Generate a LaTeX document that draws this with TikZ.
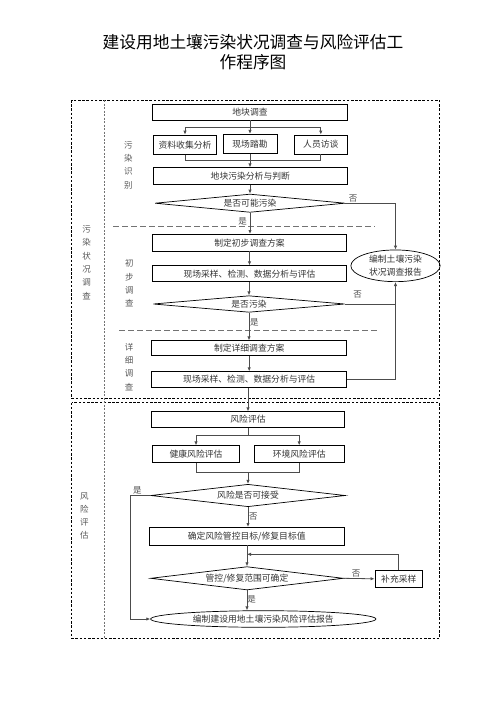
\documentclass[tikz,border=0pt]{standalone}
\usepackage{fontspec}
\newfontfamily\cjk{Noto Sans CJK SC}
\usetikzlibrary{arrows.meta,shapes.geometric}
\begin{document}
\begin{tikzpicture}[x=1pt,y=-1pt,
  font=\cjk\fontsize{8.8}{13}\selectfont,
  box/.style={draw=black, line width=0.7pt, inner sep=0pt, text=black!80},
  dia/.style={diamond, aspect=10, draw=black, line width=0.7pt, inner sep=0pt, text=black!80},
  ell/.style={ellipse, draw=black, line width=0.7pt, inner sep=0pt, text=black!80, align=center},
  conn/.style={draw=black!70, line width=0.8pt},
  arr/.style={conn, -{Latex[length=4pt,width=3.4pt]}},
  lbl/.style={text=black!70, inner sep=0pt, font=\cjk\fontsize{8.5}{10}\selectfont},
  vlbl/.style={text=black!65, inner sep=0pt, align=center, font=\cjk\fontsize{8.5}{13.3}\selectfont},
  frame/.style={draw=black, line width=0.8pt, dash pattern=on 2.5pt off 1.7pt},
  sepline/.style={draw=black!55, line width=0.9pt, dash pattern=on 6pt off 3pt},
  vsep/.style={draw=black!55, line width=0.8pt, dash pattern=on 2pt off 1.5pt}]
\useasboundingbox (0,0) rectangle (496,702);

% title
\node[align=center, inner sep=0pt, font=\cjk\fontsize{16.7}{19.4}\selectfont] (title) at (253,52)
  {建设用地土壤污染状况调查与风险评估工\\作程序图};

% frames
\draw[frame] (71.7,100) rectangle (439.3,398.3);
\draw[frame] (71.7,402.7) rectangle (439.3,638.3);
\draw[vsep] (104.5,100) -- (104.5,638.3);
\draw[sepline] (113,226.7) -- (375,226.7);
\draw[sepline] (119.3,330.7) -- (379.3,330.7);

% side labels
\node[vlbl] (lA) at (86.7,262.5) {污\\染\\状\\况\\调\\查};
\node[vlbl] (lB) at (128.3,165) {污\\染\\识\\别};
\node[vlbl] (lC) at (129.3,283.3) {初\\步\\调\\查};
\node[vlbl] (lD) at (129,366.7) {详\\细\\调\\查};
\node[vlbl] (lE) at (84.3,516) {风\\险\\评\\估};

% nodes
\node[box, minimum width=195pt, minimum height=15.7pt] (a1) at (250,112.2) {地块调查};
\node[box, minimum width=63.4pt, minimum height=19.3pt] (b1) at (185,144.7) {资料收集分析};
\node[box, minimum width=54pt, minimum height=19pt] (b2) at (250,143.8) {现场踏勘};
\node[box, minimum width=53pt, minimum height=19pt] (b3) at (320.8,144.5) {人员访谈};
\node[box, minimum width=194pt, minimum height=16.6pt] (c1) at (250.3,176) {地块污染分析与判断};
\node[dia, minimum width=190pt, minimum height=18.3pt] (d1) at (250,203.2) {是否可能污染};
\node[box, minimum width=194.4pt, minimum height=16.7pt] (e1) at (249.5,242.7) {制定初步调查方案};
\node[box, minimum width=194.4pt, minimum height=16pt] (e2) at (249.5,273.7) {现场采样、检测、数据分析与评估};
\node[dia, minimum width=191.6pt, minimum height=16.6pt] (d2) at (249,304) {是否污染};
\node[box, minimum width=195pt, minimum height=15pt] (f1) at (249.2,348.2) {制定详细调查方案};
\node[box, minimum width=195pt, minimum height=15.6pt] (f2) at (249.2,379.5) {现场采样、检测、数据分析与评估};
\node[ell, minimum width=89.3pt, minimum height=31.7pt] (R1) at (395.5,265.8) {编制土壤污染\\状况调查报告};

\node[box, minimum width=192.6pt, minimum height=15.6pt] (g1) at (248,419.5) {风险评估};
\node[box, minimum width=86.6pt, minimum height=16.6pt] (h1) at (196,454) {健康风险评估};
\node[box, minimum width=89.7pt, minimum height=16.6pt] (h2) at (299.2,454) {环境风险评估};
\node[dia, minimum width=194.3pt, minimum height=22.4pt] (d3) at (248,495.5) {风险是否可接受};
\node[box, minimum width=194.7pt, minimum height=17.7pt] (i1) at (246.7,536.2) {确定风险管控目标/修复目标值};
\node[dia, minimum width=192.7pt, minimum height=23.3pt] (d4) at (247,578.3) {管控/修复范围可确定};
\node[box, minimum width=47.7pt, minimum height=17.7pt] (j1) at (398.8,578.8) {补充采样};
\node[ell, minimum width=225.3pt, minimum height=16.6pt] (R2) at (263.3,619) {编制建设用地土壤污染风险评估报告};

% connectors, upper part
\coordinate (br1) at (250,127.3);
\draw[conn] (a1.south) -- (br1);
\draw[arr] (br1) -| (b1.north);
\draw[arr] (br1) -| (b3.north);
\draw[arr] (br1) -- (b2.north);
\coordinate (mg1) at (250,160.7);
\draw[conn] (b1.south) |- (mg1) -| (b3.south);
\draw[conn] (b2.south) -- (mg1);
\draw[arr] (mg1) -- (c1.north -| mg1);
\draw[arr] (c1.south -| d1.north) -- (d1.north);
\draw[arr] (d1.south) -- (e1.north -| d1.south);
\node[lbl] (y1) at (242.7,221.7) {是};
\draw[arr] (d1.east) -| (R1.north);
\node[lbl] (n1) at (353,198.3) {否};
\draw[arr] (e1.south) -- (e2.north);
\draw[arr] (e2.south -| d2.north) -- (d2.north);
\coordinate (jn1) at (R1.south |- d2.east);
\draw[conn] (d2.east) -- (jn1);
\node[lbl] (n2) at (357.7,295) {否};
\draw[arr] (d2.south) -- (f1.north -| d2.south);
\node[lbl] (y2) at (254.3,322.3) {是};
\draw[arr] (f1.south) -- (f2.south |- f2.north);
\draw[arr] (f2.east) -| (R1.south);

% connectors, lower part
\draw[arr] (f2.south -| g1.north) -- (g1.north);
\coordinate (br2) at (248,435.7);
\draw[conn] (g1.south) -- (br2);
\draw[arr] (br2) -| (h1.north);
\draw[arr] (br2) -| (h2.north);
\coordinate (mg2) at (248,472.7);
\draw[conn] (h1.south) |- (mg2) -| (h2.south);
\draw[arr] (mg2) -- (d3.north);
\coordinate (lft) at (130,495.5);
\draw[arr] (d3.west) -- (lft) |- (R2.west);
\node[lbl] (y3) at (137.3,490) {是};
\draw[arr] (d3.south) -- (i1.north -| d3.south);
\node[lbl] (n3) at (253.3,516.7) {否};
\draw[arr] (i1.south -| d4.north) -- (d4.north);
\coordinate (jn2) at (247,554.3);
\draw[arr] (j1.north) |- (jn2);
\draw[arr] (d4.east) -- (j1.west);
\node[lbl] (n4) at (356,573.3) {否};
\draw[arr] (d4.south) -- (d4.south |- R2.north);
\node[lbl] (y4) at (251.7,599.3) {是};
\end{tikzpicture}
\end{document}
